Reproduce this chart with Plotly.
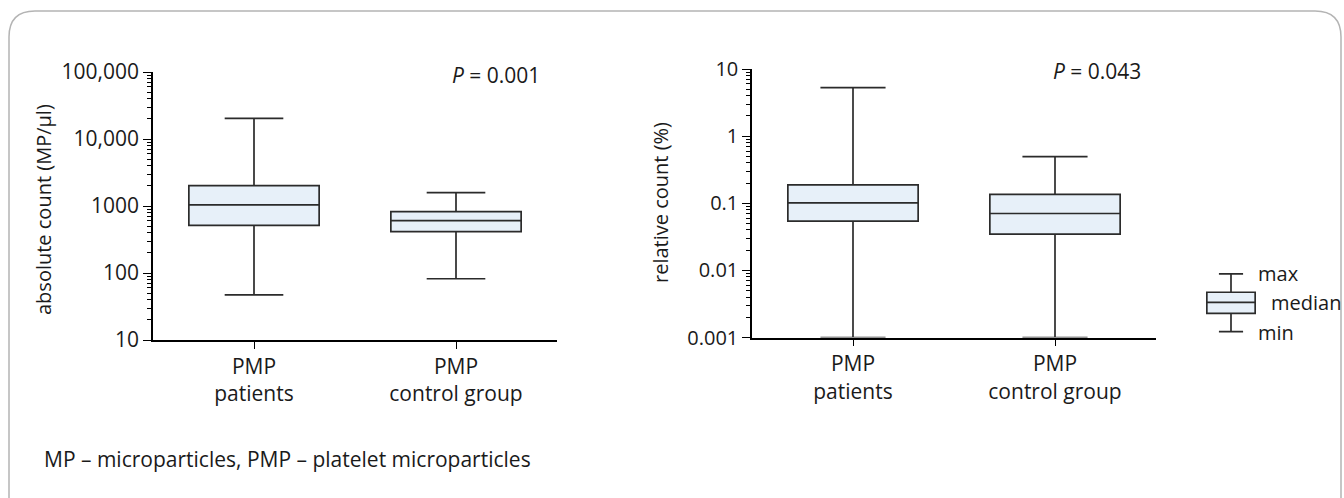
import plotly.graph_objects as go

W, H = 1344, 498

categories = ["PMP<br>patients", "PMP<br>control group"]

# absolute count (MP/µl)
abs_min = [47, 82]
abs_q1 = [515, 414]
abs_median = [1040, 604]
abs_q3 = [2010, 822]
abs_max = [20300, 1580]

# relative count (%)
rel_min = [0.001, 0.001]
rel_q1 = [0.054, 0.0347]
rel_median = [0.101, 0.0703]
rel_q3 = [0.188, 0.136]
rel_max = [5.27, 0.495]

abs_tickvals = [10, 100, 1000, 10000, 100000]
abs_ticktext = ["10", "100", "1000", "10,000", "100,000"]
rel_tickvals = [0.001, 0.01, 0.1, 1, 10]
rel_ticktext = ["0.001", "0.01", "0.1", "1", "10"]

p_values = ["0.001", "0.043"]

# schematic key glyph (relative units)
key_min = [0.0]
key_q1 = [1.0]
key_median = [1.6]
key_q3 = [2.15]
key_max = [3.15]
key_labels = ["max", "median", "min"]

FONT = "Open Sans"
TXT = "#1a1a1a"
FILL = "#e7f0f9"
EDGE = "#2b2b2b"


def fx(x):
    return x / W


def fy(y):
    return 1 - y / H


fig = go.Figure()

fig.add_trace(go.Box(
    x=categories, q1=abs_q1, median=abs_median, q3=abs_q3,
    lowerfence=abs_min, upperfence=abs_max,
    fillcolor=FILL, line=dict(color=EDGE, width=1.7),
    whiskerwidth=0.45, width=0.645, boxpoints=False,
    xaxis="x", yaxis="y", showlegend=False, hoverinfo="skip"))

fig.add_trace(go.Box(
    x=categories, q1=rel_q1, median=rel_median, q3=rel_q3,
    lowerfence=rel_min, upperfence=rel_max,
    fillcolor=FILL, line=dict(color=EDGE, width=1.7),
    whiskerwidth=0.5, width=0.645, boxpoints=False,
    xaxis="x2", yaxis="y2", showlegend=False, hoverinfo="skip"))

fig.add_trace(go.Box(
    x=[0], q1=key_q1, median=key_median, q3=key_q3,
    lowerfence=key_min, upperfence=key_max,
    fillcolor=FILL, line=dict(color=EDGE, width=1.7),
    whiskerwidth=0.5, width=1.0, boxpoints=False,
    xaxis="x3", yaxis="y3", showlegend=False, hoverinfo="skip"))

common_x = dict(
    type="category", categoryorder="array", categoryarray=categories,
    range=[-0.5, 1.5], showline=True, linecolor="black", linewidth=1.5,
    ticks="outside", ticklen=7, tickwidth=1.3, tickcolor="black",
    showgrid=False, zeroline=False, automargin=False,
    tickfont=dict(family=FONT, size=21, color=TXT))

common_y = dict(
    type="log", showline=True, linecolor="black", linewidth=1.5,
    ticks="outside", ticklen=8, tickwidth=1.3, tickcolor="black",
    minor=dict(ticks="outside", ticklen=4, tickwidth=1, tickcolor="black",
               dtick="D1", showgrid=False),
    showgrid=False, zeroline=False, automargin=False)

fig.update_layout(
    width=W, height=H,
    margin=dict(l=0, r=0, t=0, b=0),
    paper_bgcolor="white", plot_bgcolor="white",
    showlegend=False,
    xaxis=dict(domain=[fx(153), fx(557)], anchor="y", **common_x),
    yaxis=dict(domain=[fy(340), fy(72)], anchor="x", range=[1, 5],
               tickvals=abs_tickvals, ticktext=abs_ticktext,
               tickfont=dict(family=FONT, size=21, color=TXT), **common_y),
    xaxis2=dict(domain=[fx(752), fx(1156)], anchor="y2", **common_x),
    yaxis2=dict(domain=[fy(337.5), fy(69)], anchor="x2", range=[-3, 1],
                tickvals=rel_tickvals, ticktext=rel_ticktext,
                tickfont=dict(family=FONT, size=20, color=TXT), **common_y),
    xaxis3=dict(domain=[fx(1202), fx(1260)], anchor="y3", range=[-0.6, 0.6],
                visible=False),
    yaxis3=dict(domain=[fy(334.4), fy(271.2)], anchor="x3", range=[-0.15, 3.3],
                visible=False),
)

annotations = [
    dict(text="absolute count (MP/µl)", x=fx(43), y=fy(210), textangle=-90,
         font=dict(family=FONT, size=20, color=TXT)),
    dict(text="relative count (%)", x=fx(661), y=fy(203), textangle=-90,
         font=dict(family=FONT, size=20, color=TXT)),
    dict(text=f"<i>P</i> = {p_values[0]}", x=fx(496), y=fy(75),
         font=dict(family=FONT, size=21, color=TXT)),
    dict(text=f"<i>P</i> = {p_values[1]}", x=fx(1097), y=fy(71),
         font=dict(family=FONT, size=21, color=TXT)),
    dict(text=key_labels[0], x=fx(1256), y=fy(273), xanchor="left",
         font=dict(family=FONT, size=20, color=TXT)),
    dict(text=key_labels[1], x=fx(1269), y=fy(302), xanchor="left",
         font=dict(family=FONT, size=20, color=TXT)),
    dict(text=key_labels[2], x=fx(1256), y=fy(332), xanchor="left",
         font=dict(family=FONT, size=20, color=TXT)),
    dict(text="MP – microparticles, PMP – platelet microparticles",
         x=fx(42), y=fy(459), xanchor="left",
         font=dict(family=FONT, size=21, color=TXT)),
]
for a in annotations:
    a.update(xref="paper", yref="paper", showarrow=False,
             xanchor=a.get("xanchor", "center"), yanchor="middle")
fig.update_layout(annotations=annotations)

# rounded frame around the figure
L, T, R, B, r = 9, 11, 1341, 502, 26
path = (f"M {fx(L)},{fy(B)} L {fx(L)},{fy(T + r)} "
        f"Q {fx(L)},{fy(T)} {fx(L + r)},{fy(T)} "
        f"L {fx(R - r)},{fy(T)} Q {fx(R)},{fy(T)} {fx(R)},{fy(T + r)} "
        f"L {fx(R)},{fy(B)}")
fig.add_shape(type="path", path=path, xref="paper", yref="paper",
              line=dict(color="#b4b4b4", width=1.5), layer="below")

fig.write_html("out.html")
